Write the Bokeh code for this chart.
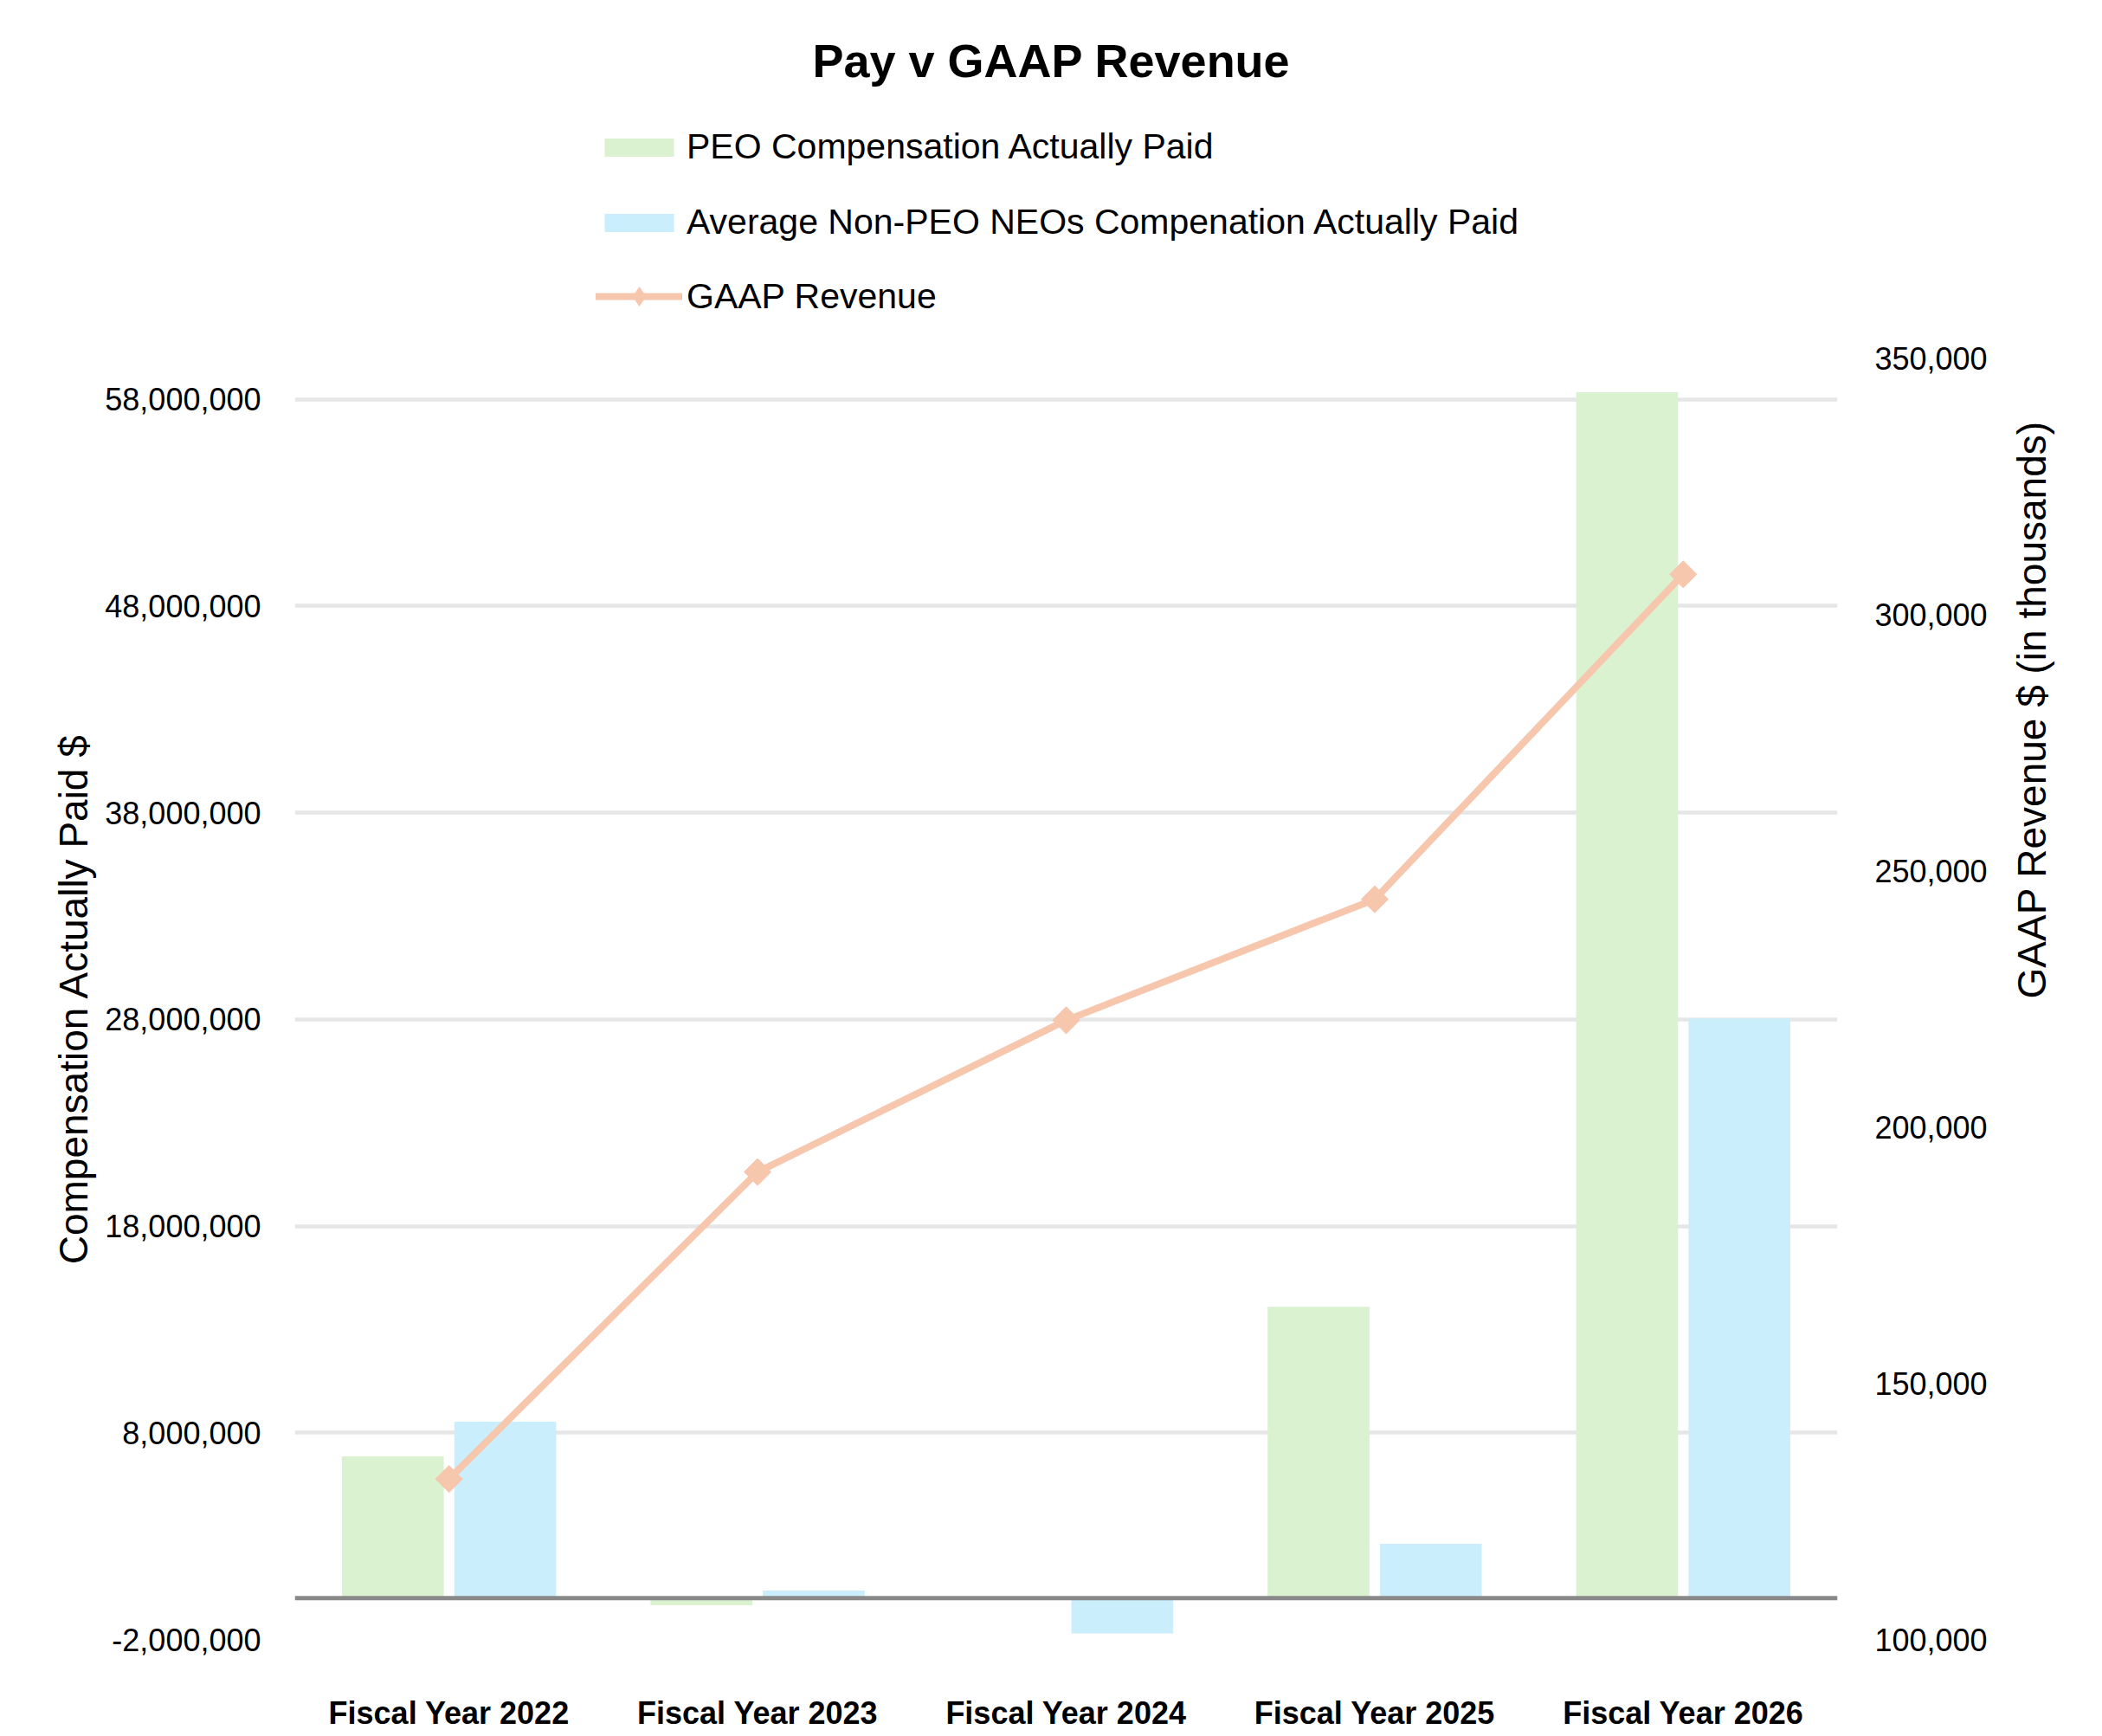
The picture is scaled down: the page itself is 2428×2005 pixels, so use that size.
import numpy as np
from bokeh.plotting import figure
from bokeh.layouts import column
from bokeh.models import (ColumnDataSource, Range1d, LinearAxis, FixedTicker,
                          NumeralTickFormatter, Span, Legend, LegendItem, Label)
from bokeh.transform import dodge
from bokeh.embed import file_html
from bokeh.resources import INLINE

FONT = "Liberation Sans"

# Fiscal years on the category axis
categories = ["Fiscal Year 2022", "Fiscal Year 2023", "Fiscal Year 2024",
              "Fiscal Year 2025", "Fiscal Year 2026"]

# Compensation actually paid ($)
peo_cap = [6860000, -350000, 0, 14100000, 58350000]
neo_avg_cap = [8540000, 370000, -1710000, 2630000, 28050000]

# GAAP revenue ($ in thousands)
gaap_revenue = [131300, 191200, 220800, 244400, 307800]

# Axis ticks
left_ticks = [-2000000, 8000000, 18000000, 28000000, 38000000, 48000000, 58000000]
right_ticks = [100000, 150000, 200000, 250000, 300000, 350000]

GREEN = "#DAF2D0"
BLUE = "#CAEEFB"
PEACH = "#F6C6AD"

W = 2428
LEFT, RIGHT = 340, 306
HEAD_H = 373          # header band: title and legend
MAIN_H = 2005 - HEAD_H

# ---------------------------------------------------------------- header
# Its frame lines up with the chart frame below (left edge at LEFT).
head = figure(width=W, height=HEAD_H, x_range=Range1d(0, 1), y_range=Range1d(0, 1),
              x_axis_type=None, y_axis_type=None, output_backend="svg",
              toolbar_location=None, min_border=0)
head.outline_line_color = None
head.background_fill_color = "white"
head.border_fill_color = "white"

# Key swatches (their single point lies outside the header's ranges)
k_peo = head.vbar(x=[-5], top=[-5], width=0.1, fill_color=GREEN, line_color=None)
k_neo = head.vbar(x=[-5], top=[-5], width=0.1, fill_color=BLUE, line_color=None)
k_line = head.line(x=[-5, -4], y=[-5, -4], line_color=PEACH, line_width=8, line_cap="round")
k_pts = head.scatter(x=[-5], y=[-5], marker="diamond",
                     fill_color=PEACH, line_color=PEACH)

legend_style = dict(orientation="vertical", glyph_width=100, label_standoff=5, spacing=40,
                    padding=0, margin=0, border_line_color=None, background_fill_alpha=0,
                    label_text_font=FONT, label_text_font_size="41px",
                    label_text_color="black")
head.add_layout(Legend(items=[
    LegendItem(label="PEO Compensation Actually Paid", renderers=[k_peo]),
    LegendItem(label="Average Non-PEO NEOs Compenation Actually Paid", renderers=[k_neo]),
], location=(348, HEAD_H - 280), glyph_height=26, **legend_style))
head.add_layout(Legend(items=[
    LegendItem(label="GAAP Revenue", renderers=[k_line, k_pts]),
], location=(348, HEAD_H - 369), glyph_height=54, **legend_style))

head.add_layout(Label(x=W / 2 - LEFT, y=HEAD_H - 69, x_units="screen", y_units="screen",
                      text="Pay v GAAP Revenue", text_align="center",
                      text_baseline="alphabetic", text_font=FONT, text_font_size="54px",
                      text_font_style="bold", text_color="black"))

# ---------------------------------------------------------------- main chart
src = ColumnDataSource(dict(cat=categories, peo=peo_cap, neo=neo_avg_cap, rev=gaap_revenue))

p = figure(x_range=categories, y_range=Range1d(-2000000, 60000000),
           width=W, height=MAIN_H, output_backend="svg", toolbar_location=None,
           min_border_left=LEFT, min_border_right=RIGHT,
           min_border_top=40, min_border_bottom=112)
p.outline_line_color = None
p.background_fill_color = "white"
p.border_fill_color = "white"

p.extra_y_ranges = {"rev": Range1d(100000, 350000)}

# Grid
p.xgrid.visible = False
p.ygrid.ticker = FixedTicker(ticks=left_ticks)
p.ygrid.grid_line_color = "#E6E6E6"
p.ygrid.grid_line_width = 4.5

# Left axis
ya = p.yaxis[0]
ya.ticker = FixedTicker(ticks=left_ticks)
ya.formatter = NumeralTickFormatter(format="0,0")
ya.axis_line_color = None
ya.major_tick_line_color = None
ya.minor_tick_line_color = None
ya.major_label_standoff = 33
ya.major_label_text_font = FONT
ya.major_label_text_font_size = "36px"
ya.major_label_text_color = "black"
ya.axis_label = "Compensation Actually Paid $"
ya.axis_label_standoff = 7
ya.axis_label_text_font = FONT
ya.axis_label_text_font_size = "46px"
ya.axis_label_text_font_style = "normal"
ya.axis_label_text_color = "black"

# Right axis
ra = LinearAxis(y_range_name="rev", ticker=FixedTicker(ticks=right_ticks),
                formatter=NumeralTickFormatter(format="0,0"))
ra.axis_line_color = None
ra.major_tick_line_color = None
ra.minor_tick_line_color = None
ra.major_label_standoff = 37
ra.major_label_text_font = FONT
ra.major_label_text_font_size = "36px"
ra.major_label_text_color = "black"
ra.axis_label = "GAAP Revenue $ (in thousands)"
ra.axis_label_orientation = np.pi / 2
ra.axis_label_standoff = 48
ra.axis_label_text_font = FONT
ra.axis_label_text_font_size = "46px"
ra.axis_label_text_font_style = "normal"
ra.axis_label_text_color = "black"
p.add_layout(ra, "right")

# Category axis
xa = p.xaxis[0]
xa.axis_line_color = None
xa.major_tick_line_color = None
xa.minor_tick_line_color = None
xa.major_label_standoff = 58
xa.major_label_text_font = FONT
xa.major_label_text_font_size = "36px"
xa.major_label_text_font_style = "bold"
xa.major_label_text_color = "black"

# Bars
p.vbar(x=dodge("cat", -0.182, range=p.x_range), top="peo", bottom=0, width=0.33,
       source=src, fill_color=GREEN, line_color=None)
p.vbar(x=dodge("cat", 0.182, range=p.x_range), top="neo", bottom=0, width=0.33,
       source=src, fill_color=BLUE, line_color=None)

# Zero line
p.add_layout(Span(location=0, dimension="width", line_color="#898989", line_width=5))

# Revenue line with diamond markers
p.line(x="cat", y="rev", source=src, y_range_name="rev",
       line_color=PEACH, line_width=8, line_cap="round", line_join="round")
p.scatter(x="cat", y="rev", source=src, y_range_name="rev", marker="square",
          angle=np.pi / 4, size=22, fill_color=PEACH, line_color=PEACH)

layout = column(head, p, spacing=0)
open("out.html", "w").write(file_html(layout, INLINE))
